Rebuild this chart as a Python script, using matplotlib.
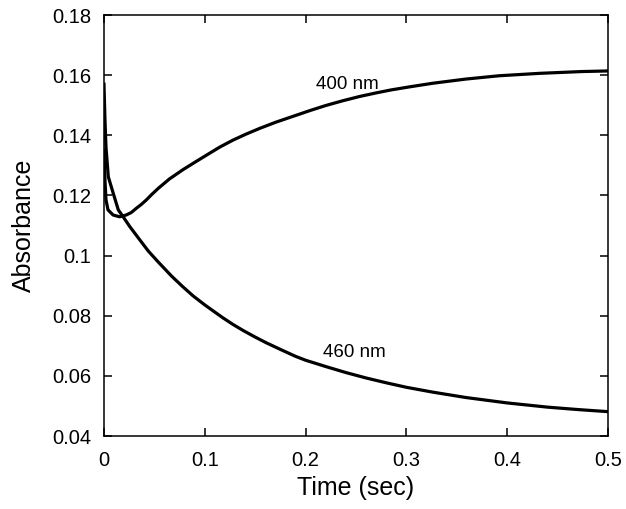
import matplotlib
matplotlib.use("Agg")
import matplotlib.pyplot as plt

plt.rcParams["font.family"] = ["Liberation Sans", "DejaVu Sans"]

# Absorbance traces (time in sec)
T_400 = [0, 0.001, 0.002, 0.004, 0.009, 0.0155, 0.0221, 0.027, 0.032, 0.037,
         0.042, 0.047, 0.054, 0.065, 0.0785, 0.09, 0.1017, 0.115, 0.128,
         0.141, 0.1545, 0.17, 0.1875, 0.205, 0.22, 0.237, 0.2535, 0.27,
         0.285, 0.303, 0.326, 0.359, 0.392, 0.432, 0.474, 0.5]
A_400 = [0.135, 0.125, 0.1185, 0.1152, 0.1135, 0.1129, 0.1135, 0.1143, 0.1157,
         0.1170, 0.1185, 0.1202, 0.1224, 0.1255, 0.1286, 0.131, 0.1334, 0.1361,
         0.1384, 0.1404, 0.1423, 0.1443, 0.1463, 0.1483, 0.1499, 0.1515,
         0.1529, 0.1541, 0.1551, 0.1561, 0.1573, 0.1587, 0.1598, 0.1606,
         0.1612, 0.1614]

T_460 = [0, 0.001, 0.002, 0.0043, 0.0092, 0.0142, 0.019, 0.0257, 0.0356,
         0.044, 0.054, 0.067, 0.078, 0.0884, 0.1, 0.11, 0.118, 0.128, 0.138,
         0.15, 0.161, 0.175, 0.19, 0.2, 0.22, 0.24, 0.26, 0.28, 0.3, 0.326,
         0.359, 0.4, 0.44, 0.47, 0.5]
A_460 = [0.157, 0.145, 0.136, 0.1262, 0.1207, 0.1152, 0.1129, 0.1096, 0.1052,
         0.1015, 0.0978, 0.0932, 0.0897, 0.0866, 0.0836, 0.0812, 0.0793,
         0.0771, 0.0751, 0.0729, 0.0710, 0.0688, 0.0665, 0.0652, 0.0631,
         0.0611, 0.0593, 0.0577, 0.0562, 0.0546, 0.0528, 0.0510, 0.0496,
         0.0488, 0.0481]

fig = plt.figure(figsize=(6.26, 5.09), dpi=100)
ax = fig.add_axes([0.1661, 0.1434, 0.8051, 0.8271])

ax.plot(T_400, A_400, color="black", lw=2.3)
ax.plot(T_460, A_460, color="black", lw=2.3)

ax.text(0.241, 0.157, "400 nm", fontsize=13.5, ha="center", va="center")
ax.text(0.2485, 0.0679, "460 nm", fontsize=13.5, ha="center", va="center")

ax.set_xlim(0, 0.5)
ax.set_ylim(0.04, 0.18)
ax.set_xticks([0, 0.1, 0.2, 0.3, 0.4, 0.5])
ax.set_xticklabels(["0", "0.1", "0.2", "0.3", "0.4", "0.5"])
ax.set_yticks([0.04, 0.06, 0.08, 0.1, 0.12, 0.14, 0.16, 0.18])
ax.set_yticklabels(["0.04", "0.06", "0.08", "0.1", "0.12", "0.14", "0.16", "0.18"])
ax.tick_params(direction="in", top=True, right=True, length=6, width=1.1,
               labelsize=14.5)
ax.tick_params(axis="y", pad=9)
ax.tick_params(axis="x", pad=11)
for s in ax.spines.values():
    s.set_linewidth(1.1)

ax.set_xlabel("Time (sec)", fontsize=18, labelpad=4)
ax.set_ylabel("Absorbance", fontsize=18, labelpad=12)

fig.savefig("out.png", dpi=100)
